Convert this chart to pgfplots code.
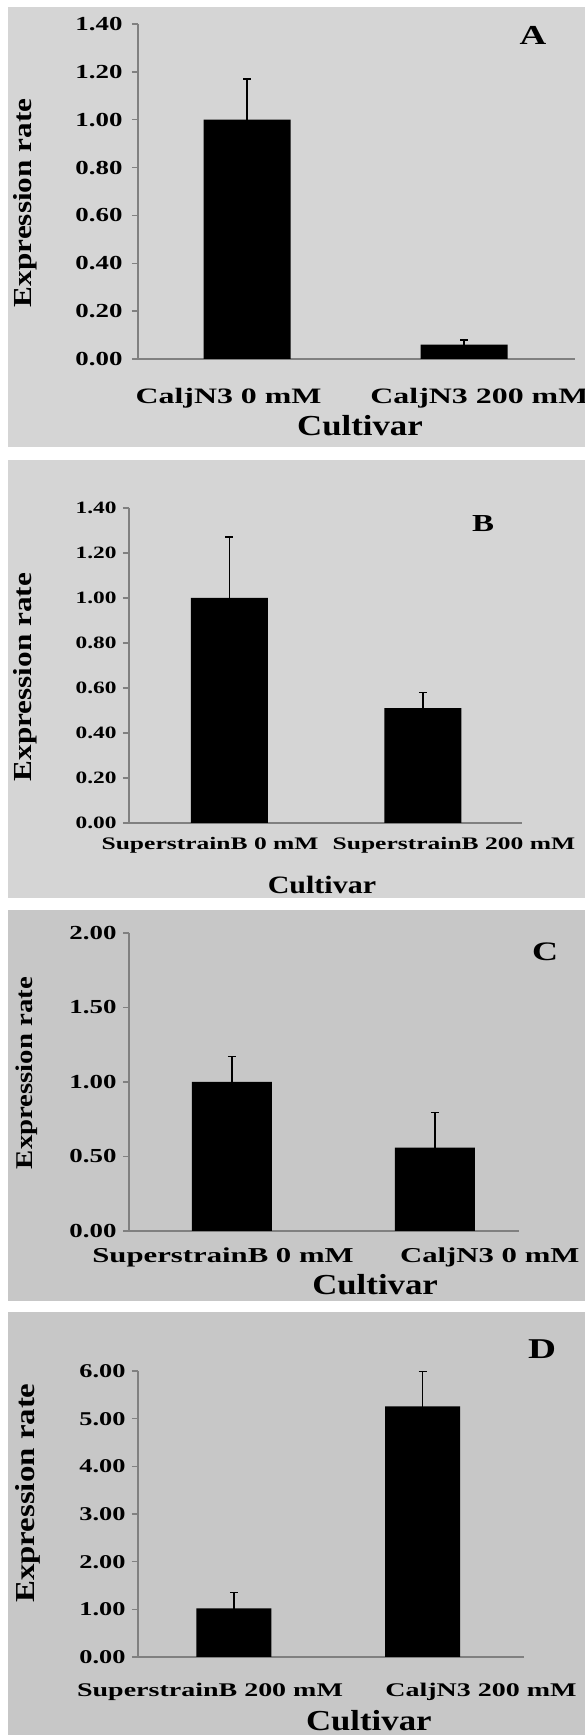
\documentclass[border=0pt]{standalone}
\usepackage{pgfplots}
\pgfplotsset{compat=1.18}
\usepackage{fontspec}
\setmainfont{Liberation Serif}[FakeStretch=1.35]
\newfontfamily\wideA{Liberation Serif}[FakeStretch=1.2]
\newfontfamily\wideC{Liberation Serif}[FakeStretch=1.45]

\definecolor{bgA}{RGB}{213,213,213}
\definecolor{bgC}{RGB}{199,199,199}
\definecolor{axgray}{RGB}{128,128,128}

% bold text at a given size (pt)
\newcommand{\fs}[1]{\bfseries\fontsize{#1}{#1}\selectfont}
\newcommand{\fa}[1]{\wideA\bfseries\fontsize{#1}{#1}\selectfont}
\newcommand{\fc}[1]{\wideC\bfseries\fontsize{#1}{#1}\selectfont}

\pgfplotsset{
  panel/.style={
    scale only axis,
    axis x line*=bottom, axis y line*=left,
    axis line style={axgray, line width=1.8pt},
    ytick align=outside,
    ytick style={axgray, line width=1.5pt},
    major tick length=6pt,
    xtick style={draw=none},
    ymin=0,
    ybar, clip=false,
    yticklabel style={/pgf/number format/fixed, /pgf/number format/fixed zerofill,
      /pgf/number format/precision=2, /pgf/number format/assume math mode=true},
    ylabel style={anchor=center},
    xlabel style={anchor=center},
    xticklabel style={anchor=base},
  },
  bars/.style={fill=black, draw=none,
    error bars/.cd, y dir=both, y explicit,
    error bar style={black, line width=1.5pt},
    error mark options={rotate=90, mark size=4pt, line width=1.5pt, black}},
}

\begin{document}
\begin{tikzpicture}
\useasboundingbox (0pt,0pt) rectangle (585pt,1735pt);
% panel backgrounds
\fill[bgA] (8pt,1288pt) rectangle (585pt,1728pt);
\fill[bgA] (8pt,837pt) rectangle (585pt,1275pt);
\fill[bgC] (8pt,434pt) rectangle (585pt,825pt);
\fill[bgC] (8pt,0pt) rectangle (585pt,423pt);

% ---------- A ----------
\begin{axis}[panel, at={(138pt,1376pt)}, anchor=south west,
  width=437pt, height=335pt, bar width=87pt,
  xmin=-0.502, xmax=1.51, ymax=1.4,
  ytick={0,0.2,0.4,0.6,0.8,1.0,1.2,1.4},
  yticklabel style={font=\fs{19.9}, xshift=-6pt},
  xtick={-0.085,1.07}, xticklabels={CaljN3 0 mM, CaljN3 200 mM},
  xticklabel style={font=\fc{22}, yshift=-39pt},
  ylabel={Expression rate}, ylabel style={font=\fa{26}, at={(axis description cs:-0.259,0.466)}},
  xlabel={Cultivar}, xlabel style={font=\fa{29}, at={(axis description cs:0.508,-0.2)}},
  title={A}, title style={font=\fs{27.4}, at={(axis description cs:0.904,0.949)}, anchor=center},
]
\addplot+[bars] coordinates {(0,1.00) +- (0,0.17) (1,0.06) +- (0,0.02)};
\end{axis}

% ---------- B ----------
\begin{axis}[panel, at={(129pt,912pt)}, anchor=south west,
  width=393pt, height=315pt, bar width=77pt,
  xmin=-0.519, xmax=1.512, ymax=1.4,
  ytick={0,0.2,0.4,0.6,0.8,1.0,1.2,1.4},
  yticklabel style={font=\fs{17.3}, xshift=-3pt},
  xtick={-0.10,1.16}, xticklabels={SuperstrainB 0 mM, SuperstrainB 200 mM},
  xticklabel style={font=\fc{17.6}, yshift=-21pt},
  ylabel={Expression rate}, ylabel style={font=\fa{26}, at={(axis description cs:-0.265,0.463)}},
  xlabel={Cultivar}, xlabel style={font=\fa{25}, at={(axis description cs:0.491,-0.197)}},
  title={B}, title style={font=\fs{24.4}, at={(axis description cs:0.901,0.930)}, anchor=center},
]
\addplot+[bars] coordinates {(0,1.00) +- (0,0.27) (1,0.51) +- (0,0.07)};
\end{axis}

% ---------- C ----------
\begin{axis}[panel, at={(129pt,504pt)}, anchor=south west,
  width=390pt, height=298pt, bar width=80pt,
  xmin=-0.507, xmax=1.414, ymax=2,
  ytick={0,0.5,1.0,1.5,2.0},
  yticklabel style={font=\fs{19.9}, xshift=-3pt},
  xtick={-0.044,1.27}, xticklabels={SuperstrainB 0 mM, CaljN3 0 mM},
  xticklabel style={font=\fc{21.2}, yshift=-26pt},
  ylabel={Expression rate}, ylabel style={font=\fa{24}, at={(axis description cs:-0.262,0.530)}},
  xlabel={Cultivar}, xlabel style={font=\fa{29}, at={(axis description cs:0.631,-0.181)}},
  title={C}, title style={font=\fs{26.7}, at={(axis description cs:1.067,0.916)}, anchor=center},
]
\addplot+[bars] coordinates {(0,1.00) +- (0,0.17) (1,0.56) +- (0,0.235)};
\end{axis}

% ---------- D ----------
\begin{axis}[panel, at={(138pt,78pt)}, anchor=south west,
  width=386pt, height=286pt, bar width=75pt,
  xmin=-0.509, xmax=1.538, ymax=6,
  ytick={0,1,2,3,4,5,6},
  yticklabel style={font=\fs{19.5}, xshift=-3pt},
  xtick={-0.127,1.31}, xticklabels={SuperstrainB 200 mM, CaljN3 200 mM},
  xticklabel style={font=\fc{19.3}, yshift=-33pt},
  ylabel={Expression rate}, ylabel style={font=\fa{27.4}, at={(axis description cs:-0.285,0.573)}},
  xlabel={Cultivar}, xlabel style={font=\fa{29}, anchor=base, at={(axis description cs:0.598,-0.256)}},
  title={D}, title style={font=\fs{28.7}, at={(axis description cs:1.047,1.056)}, anchor=center},
]
\addplot+[bars] coordinates {(0,1.02) +- (0,0.33) (1,5.26) +- (0,0.73)};
\end{axis}
\end{tikzpicture}
\end{document}
